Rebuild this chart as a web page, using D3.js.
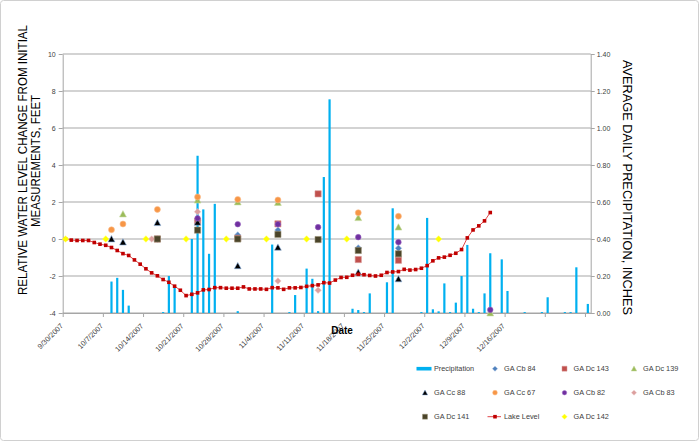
<!DOCTYPE html>
<html><head><meta charset="utf-8">
<script src="https://cdn.jsdelivr.net/npm/d3@7/dist/d3.min.js"></script>
<style>
html,body{margin:0;padding:0;background:#fff;}
svg{display:block;font-family:"Liberation Sans",Arial,sans-serif;}
</style></head>
<body>
<svg id="chart" width="700" height="442"></svg>
<script>
// ---------- DATA ----------
const startDate = "9/30/2007";
const endDate = "12/31/2007";
const xTickLabels = ["9/30/2007","10/7/2007","10/14/2007","10/21/2007","10/28/2007","11/4/2007","11/11/2007","11/18/2007","11/25/2007","12/2/2007","12/9/2007","12/16/2007"];
const leftTicks = [-4,-2,0,2,4,6,8,10];
const rightTicks = [0,0.2,0.4,0.6,0.8,1.0,1.2,1.4];

const precipDates = ["10/8/2007","10/9/2007","10/10/2007","10/11/2007","10/17/2007","10/18/2007","10/19/2007","10/22/2007","10/23/2007","10/24/2007","10/25/2007","10/26/2007","10/30/2007","11/5/2007","11/8/2007","11/9/2007","11/11/2007","11/12/2007","11/13/2007","11/14/2007","11/15/2007","11/19/2007","11/20/2007","11/21/2007","11/22/2007","11/25/2007","11/26/2007","12/1/2007","12/2/2007","12/3/2007","12/4/2007","12/5/2007","12/6/2007","12/7/2007","12/8/2007","12/9/2007","12/10/2007","12/11/2007","12/12/2007","12/13/2007","12/15/2007","12/16/2007","12/19/2007","12/22/2007","12/23/2007","12/26/2007","12/27/2007","12/28/2007","12/30/2007"];
const precipValues = [0.17,0.19,0.125,0.04,0.005,0.20,0.14,0.40,0.85,0.56,0.32,0.59,0.01,0.37,0.005,0.097,0.24,0.185,0.01,0.735,1.155,0.023,0.016,0.005,0.106,0.166,0.566,0.005,0.514,0.02,0.009,0.16,0.005,0.056,0.20,0.368,0.023,0.005,0.106,0.323,0.29,0.119,0.005,0.005,0.085,0.005,0.005,0.247,0.049];

// Lake level: daily readings beginning 9/30/2007
const lakeStart = "9/30/2007";
const lakeValues = [0,-0.06,-0.08,-0.08,-0.08,-0.19,-0.28,-0.34,-0.46,-0.62,-0.79,-0.89,-1.13,-1.36,-1.61,-1.83,-1.99,-2.19,-2.34,-2.55,-2.77,-3.06,-2.99,-2.91,-2.75,-2.73,-2.63,-2.63,-2.66,-2.66,-2.66,-2.59,-2.70,-2.70,-2.70,-2.72,-2.63,-2.64,-2.72,-2.64,-2.64,-2.62,-2.56,-2.52,-2.48,-2.36,-2.38,-2.22,-2.08,-2.07,-1.96,-1.91,-1.93,-1.97,-2.00,-1.96,-1.81,-1.78,-1.76,-1.64,-1.68,-1.65,-1.58,-1.44,-1.18,-1.02,-0.98,-0.88,-0.77,-0.57,0.06,0.49,0.71,0.98,1.43];

const cb84Dates = ["10/16/2007","10/23/2007","10/30/2007","11/6/2007","11/20/2007","11/27/2007"];
const cb84Values = [0,1.0,0.22,0.48,-0.48,-0.5];
const dc143Dates = ["10/16/2007","10/23/2007","10/30/2007","11/6/2007","11/13/2007","11/20/2007","11/27/2007"];
const dc143Values = [0,0.95,0.04,0.82,2.44,-1.11,-1.15];
const dc139Dates = ["10/10/2007","10/23/2007","10/30/2007","11/6/2007","11/20/2007","11/27/2007","12/13/2007"];
const dc139Values = [1.35,2.1,2.0,1.97,1.15,0.64,-4.0];
const cc88Dates = ["10/8/2007","10/10/2007","10/16/2007","10/23/2007","10/30/2007","11/6/2007","11/20/2007","11/27/2007"];
const cc88Values = [0.0,-0.17,0.88,0.9,-1.45,-0.45,-1.8,-2.16];
const cc67Dates = ["10/8/2007","10/10/2007","10/16/2007","10/23/2007","10/30/2007","11/6/2007","11/20/2007","11/27/2007"];
const cc67Values = [0.5,0.81,1.6,2.27,2.14,2.11,1.42,1.23];
const cb82Dates = ["10/23/2007","10/30/2007","11/6/2007","11/13/2007","11/20/2007","11/27/2007","12/13/2007"];
const cb82Values = [1.12,0.8,0.8,0.64,0.1,-0.17,-3.83];
const cb83Dates = ["10/15/2007","10/23/2007","11/6/2007","11/13/2007"];
const cb83Values = [0,1.47,-2.27,-2.77];
const dc141Dates = ["10/16/2007","10/23/2007","10/30/2007","11/6/2007","11/13/2007","11/20/2007","11/27/2007"];
const dc141Values = [0,0.48,0.0,0.25,-0.03,-0.62,-0.8];
const dc142Dates = ["9/30/2007","10/7/2007","10/14/2007","10/21/2007","10/28/2007","11/4/2007","11/11/2007","11/18/2007","12/4/2007"];
const dc142Values = [0,0,0,0,0,0,0,0,0];

// ---------- SETUP ----------
const parse = d3.timeParse("%m/%d/%Y");
const svg = d3.select("#chart");
const L = 62.7, R = 590.7, T = 54, B = 313;

svg.append("rect").attr("x",0.5).attr("y",0.5).attr("width",698).attr("height",440)
  .attr("rx",3).attr("fill","#fff").attr("stroke","#d0d0d0").attr("stroke-width",1);

const x = d3.scaleTime().domain([parse(startDate), parse(endDate)]).range([L, R]);
const dayW = x(d3.timeDay.offset(parse(startDate),1)) - x(parse(startDate));
const xc = s => x(typeof s === "string" ? parse(s) : s) + dayW/2;
const y = d3.scaleLinear().domain([-4,10]).range([B,T]);
const y2 = d3.scaleLinear().domain([0,1.4]).range([B,T]);

// gridlines
svg.append("g").selectAll("line").data(leftTicks).join("line")
  .attr("x1",L).attr("x2",R).attr("y1",d=>y(d)).attr("y2",d=>y(d))
  .attr("stroke","#c4c4c4").attr("stroke-width",1.4);

// left axis
const gl = svg.append("g").attr("transform",`translate(${L},0)`)
  .call(d3.axisLeft(y).tickValues(leftTicks).tickSize(4).tickSizeOuter(0).tickPadding(3).tickFormat(d=>d));
// right axis
const gr = svg.append("g").attr("transform",`translate(${R},0)`)
  .call(d3.axisRight(y2).tickValues(rightTicks).tickSize(4).tickSizeOuter(0).tickPadding(2).tickFormat(d3.format(".2f")));
// bottom axis
const weekTicks = d3.timeWeek.range(parse(startDate), parse(endDate));
const gb = svg.append("g").attr("transform",`translate(0,${B})`)
  .call(d3.axisBottom(x).tickValues(weekTicks).tickSize(4).tickSizeOuter(0).tickFormat((d,i)=>xTickLabels[i]||""));
[gl,gr,gb].forEach(g=>{
  g.select(".domain").attr("stroke","#a6a6a6").attr("stroke-width",1);
  g.selectAll(".tick line").attr("stroke","#a6a6a6");
  g.selectAll("text").attr("fill","#404040").attr("font-size",7).attr("font-family","'Liberation Sans',Arial,sans-serif");
});
gb.selectAll(".tick text")
  .attr("font-size",7.3)
  .attr("text-anchor","end")
  .attr("y",0).attr("dy",0)
  .attr("transform",`translate(0.3,13.5) rotate(-45)`);

// precipitation bars
svg.append("g").selectAll("rect").data(precipDates.map((d,i)=>({d,v:precipValues[i]}))).join("rect")
  .attr("x",d=>xc(d.d)-1.1).attr("width",2.2)
  .attr("y",d=>y2(d.v)).attr("height",d=>B-y2(d.v))
  .attr("fill","#00b0f0");

// marker shapes
const shapes = {
  diamond: r=>`M0,${-r}L${r},0L0,${r}L${-r},0Z`,
  square: r=>`M${-r},${-r}H${r}V${r}H${-r}Z`,
  triangle: r=>`M0,${-r}L${r},${r*0.85}L${-r},${r*0.85}Z`,
  circle: r=>d3.symbol(d3.symbolCircle, Math.PI*r*r)()
};
const seriesStyles = [
  {name:"GA Cb 84", dates:cb84Dates, values:cb84Values, shape:"diamond", r:3.2, fill:"#4f81bd", stroke:"#9ab7dc"},
  {name:"GA Dc 143", dates:dc143Dates, values:dc143Values, shape:"square", r:3.1, fill:"#c0504d", stroke:"#d99694"},
  {name:"GA Dc 139", dates:dc139Dates, values:dc139Values, shape:"triangle", r:3.4, fill:"#9bbb59", stroke:"#c3d69b"},
  {name:"GA Cc 88", dates:cc88Dates, values:cc88Values, shape:"triangle", r:3.4, fill:"#000000", stroke:"#8db3e2"},
  {name:"GA Cc 67", dates:cc67Dates, values:cc67Values, shape:"circle", r:3.0, fill:"#f79646", stroke:"#fac090"},
  {name:"GA Cb 82", dates:cb82Dates, values:cb82Values, shape:"circle", r:2.8, fill:"#7030a0", stroke:"#9e6bc4"},
  {name:"GA Cb 83", dates:cb83Dates, values:cb83Values, shape:"diamond", r:3.2, fill:"#dc9f9e", stroke:"#ebc4c3"},
  {name:"GA Dc 141", dates:dc141Dates, values:dc141Values, shape:"square", r:3.1, fill:"#4a4429", stroke:"#9c9478"}
];
seriesStyles.forEach(s=>{
  svg.append("g").selectAll("path").data(s.dates.map((d,i)=>({d,v:s.values[i]}))).join("path")
    .attr("d",shapes[s.shape](s.r))
    .attr("transform",d=>`translate(${xc(d.d)},${y(d.v)})`)
    .attr("fill",s.fill).attr("stroke",s.stroke).attr("stroke-width",0.6);
});

// lake level
const lakeData = lakeValues.map((v,i)=>({date:d3.timeDay.offset(parse(lakeStart),i), v}));
svg.append("path").datum(lakeData)
  .attr("d",d3.line().x(d=>xc(d.date)).y(d=>y(d.v)))
  .attr("fill","none").attr("stroke","#e0474a").attr("stroke-width",1);
svg.append("g").selectAll("rect").data(lakeData).join("rect")
  .attr("x",d=>xc(d.date)-1.8).attr("y",d=>y(d.v)-1.8).attr("width",3.6).attr("height",3.6)
  .attr("fill","#c00000");

// GA Dc 142
const dc142Style = {shape:"diamond", r:3.3, fill:"#ffff00", stroke:"#ffff66"};
svg.append("g").selectAll("path").data(dc142Dates.map((d,i)=>({d,v:dc142Values[i]}))).join("path")
  .attr("d",shapes.diamond(dc142Style.r))
  .attr("transform",d=>`translate(${xc(d.d)},${y(d.v)})`)
  .attr("fill",dc142Style.fill).attr("stroke",dc142Style.stroke).attr("stroke-width",0.5);

// axis titles
svg.append("text").attr("transform","translate(26.5,160) rotate(-90)")
  .attr("text-anchor","middle").attr("font-size",12.5).attr("fill","#000")
  .attr("textLength",270).attr("lengthAdjust","spacingAndGlyphs")
  .text("RELATIVE WATER LEVEL CHANGE FROM INITIAL");
svg.append("text").attr("transform","translate(39.5,161) rotate(-90)")
  .attr("text-anchor","middle").attr("font-size",12.5).attr("fill","#000")
  .attr("textLength",132).attr("lengthAdjust","spacingAndGlyphs")
  .text("MEASUREMENTS, FEET");
svg.append("text").attr("transform","translate(623,187.5) rotate(90)")
  .attr("text-anchor","middle").attr("font-size",13.5).attr("fill","#000")
  .attr("textLength",255).attr("lengthAdjust","spacingAndGlyphs")
  .text("AVERAGE DAILY PRECIPITATION, INCHES");
svg.append("text").attr("x",342).attr("y",333.5).attr("text-anchor","middle")
  .attr("font-size",10).attr("font-weight","bold").attr("fill","#000").text("Date");

// legend
const legendItems = [
  {name:"Precipitation", kind:"bar"},
  ...seriesStyles.slice(0,3).map(s=>({name:s.name, kind:"marker", s})),
  ...seriesStyles.slice(3,7).map(s=>({name:s.name, kind:"marker", s})),
  {name:"GA Dc 141", kind:"marker", s:seriesStyles[7]},
  {name:"Lake Level", kind:"line"},
  {name:"GA Dc 142", kind:"marker", s:dc142Style}
];
const colX = [425, 495, 564.5, 634];
const rowY = [368.7, 392.7, 416.7];
const lg = svg.append("g");
legendItems.forEach((it,i)=>{
  const cx = colX[i%4], cy = rowY[Math.floor(i/4)];
  const g = lg.append("g");
  if(it.kind==="bar"){
    g.append("rect").attr("x",cx-8.5).attr("y",cy-1.8).attr("width",15).attr("height",3.6).attr("fill","#00b0f0");
  } else if(it.kind==="line"){
    g.append("line").attr("x1",cx-7.5).attr("x2",cx+6).attr("y1",cy).attr("y2",cy).attr("stroke","#e0474a").attr("stroke-width",1);
    g.append("rect").attr("x",cx-1.8).attr("y",cy-1.8).attr("width",3.6).attr("height",3.6).attr("fill","#c00000");
  } else {
    const s = it.s;
    g.append("path").attr("d",shapes[s.shape](s.r*0.8)).attr("transform",`translate(${cx},${cy})`)
      .attr("fill",s.fill).attr("stroke",s.stroke).attr("stroke-width",0.5);
  }
  g.append("text").attr("x",cx+9).attr("y",cy+2.6).attr("font-size",7.3).attr("fill","#404040").text(it.name);
});
</script>
</body></html>
